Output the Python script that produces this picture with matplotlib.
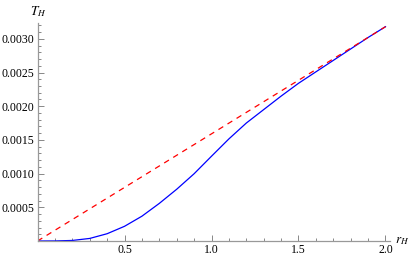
import matplotlib.pyplot as plt
from matplotlib.ticker import MultipleLocator, FormatStrFormatter

plt.rcParams['font.family'] = 'Liberation Serif'
plt.rcParams['mathtext.fontset'] = 'stix'

# кривая T_H(r_H), значения
r_blue = [0, 0.1, 0.2, 0.3, 0.4, 0.5, 0.6, 0.7, 0.8, 0.9, 1.0,
          1.1, 1.2, 1.3, 1.4, 1.5, 1.6, 1.7, 1.8, 1.9, 2.0]
t_blue = [0, 0.000001, 0.000008, 0.000038, 0.000108, 0.000218, 0.000368,
          0.000558, 0.000768, 0.000998, 0.001258, 0.001515, 0.00175,
          0.00195, 0.00215, 0.00234, 0.00251, 0.00268, 0.00285,
          0.00302, 0.00318]
# асимптота
r_red = [0, 2.0]
t_red = [0, 0.00318]

fig = plt.figure(figsize=(4.15, 2.59), dpi=100)
ax = fig.add_axes([0.0904, 0.0695, 0.8494, 0.8415])
ax.plot(r_blue, t_blue, color='blue', lw=0.9)
ax.plot(r_red, t_red, color='red', lw=0.9, ls=(0, (4.5, 4)))
ax.set_xlim(0, 2.026)
ax.set_ylim(0, 0.003234)

for s in ['top', 'right']:
    ax.spines[s].set_visible(False)
for s in ['left', 'bottom']:
    ax.spines[s].set_color('#999999')
    ax.spines[s].set_linewidth(0.9)

ax.set_xticks([0.5, 1.0, 1.5, 2.0])
ax.set_yticks([0.0005, 0.0010, 0.0015, 0.0020, 0.0025, 0.0030])
ax.xaxis.set_minor_locator(MultipleLocator(0.1))
ax.yaxis.set_minor_locator(MultipleLocator(0.0001))
ax.xaxis.set_major_formatter(FormatStrFormatter('%.1f'))
ax.yaxis.set_major_formatter(FormatStrFormatter('%.4f'))
ax.tick_params(which='both', direction='in', color='#888888', width=0.7,
               labelsize=8.5, pad=2)
ax.tick_params(which='major', length=4)
ax.tick_params(which='minor', length=2.5)

fig.text(0.092, 0.955, r'$T_H$', fontsize=9.5, ha='center', va='center')
fig.text(0.952, 0.07, r'$r_H$', fontsize=9.5, ha='left', va='center')

plt.savefig('out.png', dpi=100)
